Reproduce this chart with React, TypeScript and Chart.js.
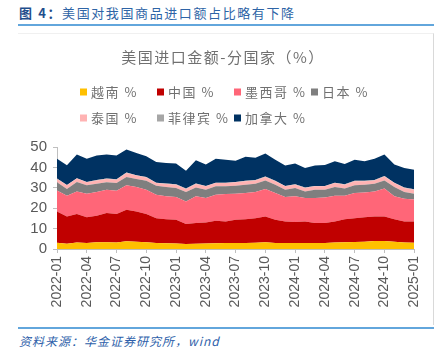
import React, { useEffect, useRef } from "react";
import { Chart, registerables } from "chart.js";

Chart.register(...registerables);

const months = [
  "2022-01", "2022-02", "2022-03", "2022-04", "2022-05", "2022-06", "2022-07", "2022-08", "2022-09", "2022-10", "2022-11", "2022-12",
  "2023-01", "2023-02", "2023-03", "2023-04", "2023-05", "2023-06", "2023-07", "2023-08", "2023-09", "2023-10", "2023-11", "2023-12",
  "2024-01", "2024-02", "2024-03", "2024-04", "2024-05", "2024-06", "2024-07", "2024-08", "2024-09", "2024-10", "2024-11", "2024-12",
  "2025-01",
];

const vietnam = [3.1, 2.6, 3.2, 3.0, 3.3, 3.3, 3.2, 3.8, 3.5, 3.3, 3.0, 2.8, 2.7, 2.5, 2.6, 2.7, 2.8, 2.9, 3.0, 3.0, 3.1, 3.3, 3.0, 2.9, 2.9, 3.0, 2.9, 2.9, 3.2, 3.3, 3.4, 3.6, 3.9, 3.9, 3.5, 3.2, 3.1];
const china = [15.3, 13.3, 14.0, 12.6, 13.0, 14.3, 14.0, 15.4, 14.9, 13.9, 12.1, 11.8, 11.6, 9.7, 10.1, 10.3, 11.1, 10.6, 11.3, 11.6, 12.0, 12.6, 11.3, 10.6, 10.3, 10.5, 9.8, 9.8, 10.3, 11.3, 11.7, 12.0, 12.0, 12.0, 11.1, 10.3, 10.4];
const mexico = [10.3, 10.2, 11.0, 11.5, 11.6, 11.5, 11.4, 12.0, 12.0, 11.9, 11.5, 11.2, 11.2, 11.1, 13.1, 12.0, 12.7, 13.4, 12.8, 12.8, 12.8, 13.5, 13.1, 12.0, 12.6, 11.5, 12.3, 12.6, 12.6, 11.5, 12.3, 12.1, 12.3, 13.7, 11.2, 11.1, 10.8];
const japan = [4.0, 3.3, 4.6, 4.1, 4.1, 3.6, 3.7, 4.1, 3.9, 4.4, 4.4, 4.6, 4.4, 4.6, 4.4, 4.1, 4.1, 3.8, 3.9, 4.1, 4.1, 4.2, 4.1, 3.6, 4.1, 3.2, 4.1, 3.8, 4.3, 3.5, 3.8, 3.8, 3.8, 4.0, 4.6, 3.3, 2.8];
const thailand = [1.6, 1.8, 1.7, 1.5, 1.6, 1.6, 1.7, 2.0, 1.7, 1.6, 1.3, 1.5, 1.6, 1.5, 1.7, 1.6, 1.6, 1.6, 1.7, 1.7, 1.6, 1.7, 1.7, 1.6, 1.6, 1.7, 1.6, 1.6, 1.9, 1.9, 2.0, 1.7, 1.6, 2.0, 1.9, 2.0, 2.0];
const philippines = [0.2, 0.2, 0.2, 0.2, 0.2, 0.2, 0.2, 0.2, 0.2, 0.2, 0.2, 0.2, 0.2, 0.2, 0.2, 0.2, 0.2, 0.2, 0.2, 0.2, 0.2, 0.2, 0.2, 0.2, 0.2, 0.2, 0.2, 0.2, 0.2, 0.2, 0.2, 0.2, 0.2, 0.2, 0.2, 0.2, 0.2];
const canada = [9.8, 9.6, 11.6, 11.3, 12.0, 11.8, 11.6, 11.3, 10.9, 10.2, 10.2, 10.1, 10.2, 8.8, 11.4, 10.5, 11.8, 11.3, 10.4, 11.8, 10.9, 11.3, 10.4, 10.0, 10.2, 9.6, 10.0, 10.3, 10.5, 10.0, 10.4, 9.6, 10.4, 10.5, 8.9, 9.6, 9.6];

const seriesNames = ["越南 %", "中国 %", "墨西哥 %", "日本 %", "泰国 %", "菲律宾 %", "加拿大 %"];
const seriesValues = [vietnam, china, mexico, japan, thailand, philippines, canada];
const seriesColors = ["#FFC000", "#C00000", "#FF6678", "#7F7F7F", "#FFB3B3", "#A6A6A6", "#003262"];

const chartTitle = "美国进口金额-分国家（%）";
const yTicks = [0, 10, 20, 30, 40, 50];

const CJK = '"Noto Sans CJK SC", "Noto Sans", sans-serif';

const decorPlugin = {
  id: "decor",
  afterDraw(chart: any) {
    const ctx = chart.ctx;
    ctx.save();
    ctx.fillStyle = "#707070";
    ctx.font = `15px ${CJK}`;
    (ctx as any).letterSpacing = "1.5px";
    ctx.textAlign = "center";
    ctx.textBaseline = "middle";
    ctx.fillText(chartTitle, 205, 24);
    ctx.font = `13px ${CJK}`;
    (ctx as any).letterSpacing = "1.5px";
    ctx.textAlign = "left";
    chart.data.datasets.forEach((ds: any, i: number) => {
      const row = i < 4 ? 0 : 1;
      const col = i < 4 ? i : i - 4;
      const x = 62 + col * 77;
      const y = row === 0 ? 59 : 85;
      ctx.fillStyle = ds.backgroundColor;
      ctx.fillRect(x, y - 3.5, 7, 7);
      ctx.fillStyle = "#707070";
      ctx.fillText(ds.label, x + 11, y + 0.5);
    });
    ctx.restore();
  },
};

function ChartBox() {
  const ref = useRef<HTMLCanvasElement>(null);
  useEffect(() => {
    if (!ref.current) return;
    const chart = new Chart(ref.current, {
      type: "line",
      data: {
        labels: months,
        datasets: seriesNames.map((name, i) => ({
          label: name,
          data: seriesValues[i],
          backgroundColor: seriesColors[i],
          borderColor: seriesColors[i],
          borderWidth: 0,
          pointRadius: 0,
          fill: i === 0 ? "origin" : "-1",
          tension: 0,
        })),
      },
      options: {
        animation: false,
        responsive: false,
        devicePixelRatio: 1,
        layout: { padding: { top: 114, left: 0, right: 18, bottom: 0 } },
        plugins: {
          legend: { display: false },
          title: { display: false },
          tooltip: { enabled: false },
        },
        scales: {
          x: {
            type: "category",
            offset: false,
            afterFit: (s: any) => {
              s.height = 76;
            },
            grid: {
              display: true,
              drawOnChartArea: false,
              drawTicks: true,
              tickLength: 4,
              color: (c: any) => (c.index % 3 === 0 ? "#BFBFBF" : "rgba(0,0,0,0)"),
            },
            border: { display: true, color: "#BFBFBF" },
            ticks: {
              autoSkip: false,
              minRotation: 90,
              maxRotation: 90,
              padding: 3,
              color: "#595959",
              font: { family: '"Liberation Sans", Arial, sans-serif', size: 14 },
              callback: function (this: any, v: any, idx: number) {
                return idx % 3 === 0 ? months[idx] : "";
              },
            },
          },
          y: {
            stacked: true,
            min: 0,
            max: 50,
            afterFit: (s: any) => {
              s.width = 39;
            },
            afterBuildTicks: (s: any) => {
              s.ticks = yTicks.map((v) => ({ value: v }));
            },
            grid: {
              display: true,
              drawOnChartArea: false,
              drawTicks: true,
              tickLength: 4,
              color: "#BFBFBF",
            },
            border: { display: true, color: "#BFBFBF" },
            ticks: {
              autoSkip: false,
              padding: 6,
              color: "#595959",
              font: { family: '"Liberation Sans", Arial, sans-serif', size: 15 },
            },
          },
        },
      },
      plugins: [decorPlugin],
    } as any);
    return () => chart.destroy();
  }, []);
  return <canvas ref={ref} width={416} height={292} style={{ display: "block", width: 416, height: 292 }} />;
}

export default function App() {
  return (
    <div style={{ position: "fixed", left: 0, top: 0, width: 441, height: 357, background: "#fff", overflow: "hidden" }}>
      <div
        style={{
          position: "absolute",
          left: 19,
          top: 3,
          fontFamily: CJK,
          fontSize: 13,
          letterSpacing: "1.6px",
          color: "#2E64A6",
          whiteSpace: "nowrap",
          lineHeight: "20px",
        }}
      >
        <span style={{ fontWeight: 700, color: "#1F4E8C" }}>图 4：</span>美国对我国商品进口额占比略有下降
      </div>
      <div style={{ position: "absolute", left: 18, top: 24, width: 416, height: 2, background: "#62A6DC" }} />
      <div
        style={{
          position: "absolute",
          left: 18,
          top: 33,
          width: 416,
          height: 292,
          borderTop: "1px solid #F0F0F0",
          borderRight: "1px solid #D9D9D9",
          boxSizing: "border-box",
        }}
      />
      <div style={{ position: "absolute", left: 18, top: 33 }}>
        <ChartBox />
      </div>
      <div style={{ position: "absolute", left: 18, top: 327, width: 416, height: 2, background: "#62A6DC" }} />
      <div
        style={{
          position: "absolute",
          left: 19,
          top: 332,
          fontFamily: CJK,
          fontSize: 12,
          fontStyle: "italic",
          color: "#2E5FAA",
          letterSpacing: "1px",
          whiteSpace: "nowrap",
          lineHeight: "18px",
        }}
      >
        资料来源：华金证券研究所，wind
      </div>
    </div>
  );
}
